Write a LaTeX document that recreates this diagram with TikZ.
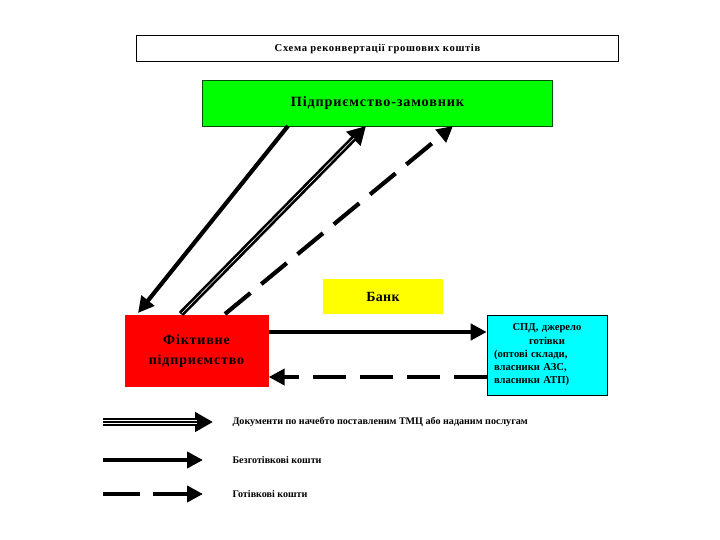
\documentclass[tikz,border=0pt]{standalone}
\usepackage{fontspec}
\setmainfont{Liberation Serif}
\usetikzlibrary{arrows.meta}
\definecolor{aqua}{RGB}{0,255,255}
\definecolor{lime}{RGB}{0,255,0}
\definecolor{pure red}{RGB}{255,0,0}
\definecolor{pure yellow}{RGB}{255,255,0}
\begin{document}
\begin{tikzpicture}[x=1pt,y=-1pt,
  box/.style={draw=black,line width=0.6pt,inner sep=0pt,font=\bfseries},
  solidarr/.style={line width=4.2pt,-{Triangle[length=16pt,width=16pt]}},
  dasharr/.style={line width=4.2pt,dash pattern=on 33pt off 14pt,-{Triangle[length=16pt,width=16pt]}},
  docarr/.style={line width=6pt,-{Triangle[length=18pt,width=19pt]},
     postaction={draw=white,line width=0.6pt,shorten >=17pt,shorten <=1pt,-}},
  legdocarr/.style={line width=7.4pt,-{Triangle[length=18pt,width=19pt]},
     postaction={draw=white,line width=1pt,double=black,double distance=1.8pt,shorten >=16pt,-}},
  legtext/.style={anchor=west,font=\bfseries\fontsize{10.1}{12}\selectfont}
]
\useasboundingbox (0,0) rectangle (720,540);
\fill[white] (0,0) rectangle (720,540);

\node[box,minimum width=482pt,minimum height=26pt,font=\bfseries\fontsize{10.6}{12}\selectfont\addfontfeatures{LetterSpace=6}] (title) at (377.5,48.5) {Схема реконвертації грошових коштів};

\node[box,fill=lime,draw=black!70!green,minimum width=350pt,minimum height=46pt,font=\bfseries\fontsize{14.2}{16}\selectfont\addfontfeatures{LetterSpace=6}] (zam) at (377.5,103) {Підприємство-замовник};

\node[fill=pure yellow,inner sep=0pt,minimum width=120pt,minimum height=35pt,font=\bfseries\fontsize{14}{16}\selectfont\addfontfeatures{LetterSpace=2}] (bank) at (383,296.5) {Банк};

\node[fill=pure red,inner sep=0pt,minimum width=144pt,minimum height=72pt,align=center,text=black,font=\bfseries\fontsize{14}{20}\selectfont\addfontfeatures{LetterSpace=6}] (fikt) at (196.5,351) {Фіктивне\\підприємство};

\node[box,fill=aqua,minimum width=120pt,minimum height=80pt,text width=106pt,align=left,inner xsep=7pt,font=\bfseries\fontsize{10.6}{13.3}\selectfont] (spd) at (547,355)
  {\makebox[106pt]{СПД, джерело}\\ \makebox[106pt]{готівки}\\ (оптові склади,\\ власники АЗС,\\ власники АТП)};

% diagonal arrows
\coordinate (a1s) at (288,126);
\coordinate (a1e) at (138,313);
\coordinate (a2s) at (181,314);
\coordinate (a2e) at (366,126);
\coordinate (a3s) at (225,314);
\coordinate (a3e) at (453,126);
\draw[solidarr] (a1s) -- (a1e);
\draw[docarr] (a2s) -- (a2e);
\draw[dasharr] (a3s) -- (a3e);

% horizontal arrows
\draw[solidarr] (fikt.east |- 0,332) -- (spd.west |- 0,332);
\draw[dasharr] (spd.west |- 0,377) -- (fikt.east |- 0,377);

% legend
\coordinate (l1s) at (103,422); \coordinate (l1e) at (213,422);
\coordinate (l2s) at (103,460); \coordinate (l2e) at (203,460);
\coordinate (l3s) at (103,494); \coordinate (l3e) at (203,494);
\draw[legdocarr] (l1s) -- (l1e);
\draw[solidarr] (l2s) -- (l2e);
\draw[dasharr,dash pattern=on 37pt off 13pt] (l3s) -- (l3e);
\node[legtext] (t1) at (229,422) {Документи по начебто поставленим ТМЦ або наданим послугам};
\node[legtext] (t2) at (229,460) {Безготівкові кошти};
\node[legtext] (t3) at (229,494) {Готівкові кошти};
\end{tikzpicture}
\end{document}
